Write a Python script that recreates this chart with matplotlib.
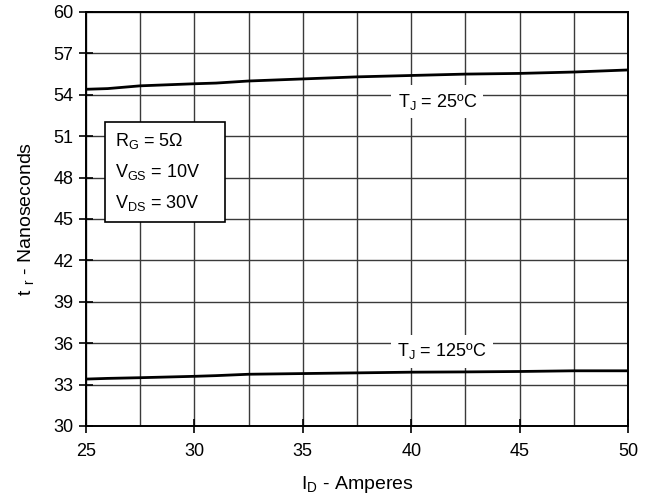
import matplotlib
matplotlib.use("Agg")
import matplotlib.pyplot as plt
import matplotlib.patches as patches
import numpy as np

plt.rcParams['font.family'] = ['Liberation Sans', 'DejaVu Sans']

# drain current, amperes
i_d = [25, 26, 27.5, 30, 31, 32.5, 35, 37.5, 40, 42.5, 45, 47.5, 50]
# rise time at Tj = 25C
tr_25 = [54.4, 54.45, 54.65, 54.8, 54.85, 55.0, 55.15, 55.3, 55.4, 55.5, 55.55, 55.65, 55.8]
# rise time at Tj = 125C
tr_125 = [33.4, 33.45, 33.5, 33.6, 33.65, 33.75, 33.8, 33.85, 33.9, 33.92, 33.95, 34.0, 34.0]

x_ticks = [25, 30, 35, 40, 45, 50]
y_ticks = [30, 33, 36, 39, 42, 45, 48, 51, 54, 57, 60]
box_lines = ["R$_\\mathregular{G}$ = 5Ω", "V$_\\mathregular{GS}$ = 10V", "V$_\\mathregular{DS}$ = 30V"]

fig = plt.figure(figsize=(6.54, 4.99), dpi=100)
ax = fig.add_axes([86/654, 1 - 426/499, 542/654, 414/499])

ax.plot(i_d, tr_25, color='black', linewidth=2, zorder=3)
ax.plot(i_d, tr_125, color='black', linewidth=2, zorder=3)

ax.set_xlim(25, 50)
ax.set_ylim(30, 60)
ax.set_xticks(x_ticks)
ax.set_xticks(np.arange(25, 50.1, 2.5), minor=True)
ax.set_yticks(y_ticks)
ax.grid(True, which='both', color='#3a3a3a', linewidth=1)
ax.tick_params(axis='both', which='major', labelsize=13, direction='inout', length=10, width=1.2)
ax.tick_params(axis='x', which='major', pad=7)
ax.tick_params(axis='y', which='major', pad=4)
ax.tick_params(axis='x', which='minor', length=0)
for s in ax.spines.values():
    s.set_linewidth(1.4)

ax.set_xlabel("I$_\\mathregular{D}$ - Amperes", fontsize=14, labelpad=10)
ax.set_ylabel("t $_\\mathregular{r}$ - Nanoseconds", fontsize=14, labelpad=12)

bbox = dict(facecolor='white', edgecolor='none', boxstyle='square,pad=0.35')
ax.text(41.2, 53.5, "T$_\\mathregular{J}$ = 25ºC", fontsize=13, ha='center', va='center',
        bbox=bbox, zorder=4)
ax.text(41.4, 35.4, "T$_\\mathregular{J}$ = 125ºC", fontsize=13, ha='center', va='center',
        bbox=bbox, zorder=4)

ax.add_patch(patches.Rectangle((25.88, 44.78), 5.54, 7.25, facecolor='white',
                               edgecolor='black', linewidth=1.2, zorder=4))
for k, line in enumerate(box_lines):
    ax.text(26.34, 50.65 - k * 2.25, line, fontsize=13, ha='left', va='center', zorder=5)

fig.savefig("out.png", dpi=100)
